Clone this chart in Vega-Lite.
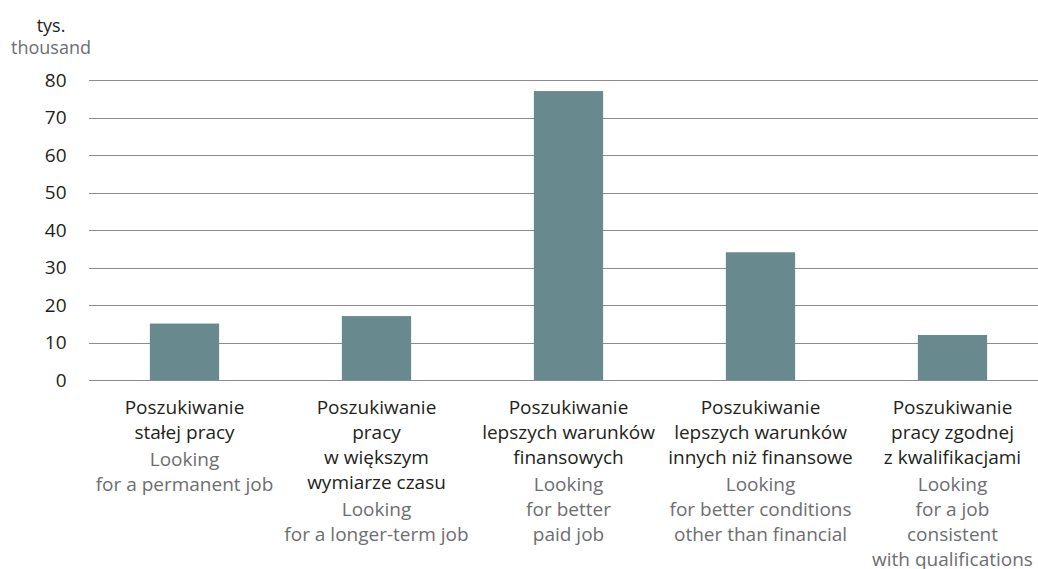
{
  "$schema": "https://vega.github.io/schema/vega-lite/v6.json",
  "width": 950,
  "height": 300,
  "autosize": {"type": "none"},
  "padding": {"left": 88, "top": 80, "right": 0, "bottom": 189},
  "background": "white",
  "view": {"stroke": null},
  "title": {
    "text": "tys.",
    "subtitle": "thousand",
    "anchor": "start",
    "frame": "group",
    "align": "center",
    "dx": -37,
    "offset": 13,
    "font": "Open Sans",
    "fontSize": 18,
    "fontWeight": "normal",
    "color": "#231f20",
    "subtitleFont": "Open Sans",
    "subtitleFontSize": 18,
    "subtitleColor": "#6d6e71",
    "subtitlePadding": 4
  },
  "data": {
    "values": [
      {"cat": "Poszukiwanie|stałej pracy#Looking|for a permanent job", "value": 15},
      {"cat": "Poszukiwanie|pracy|w większym|wymiarze czasu#Looking|for a longer-term job", "value": 17},
      {"cat": "Poszukiwanie|lepszych warunków|finansowych#Looking|for better|paid job", "value": 77},
      {"cat": "Poszukiwanie|lepszych warunków|innych niż finansowe#Looking|for better conditions|other than financial", "value": 34},
      {"cat": "Poszukiwanie|pracy zgodnej|z kwalifikacjami#Looking|for a job|consistent|with qualifications", "value": 12}
    ]
  },
  "encoding": {
    "y": {
      "field": "value",
      "type": "quantitative",
      "scale": {"domain": [0, 80], "nice": false},
      "axis": {
        "title": null,
        "domain": false,
        "ticks": false,
        "grid": true,
        "gridColor": "#8c8c8c",
        "gridWidth": 1,
        "values": [0, 10, 20, 30, 40, 50, 60, 70, 80],
        "labelOverlap": false,
        "labelFont": "Open Sans",
        "labelFontSize": 19,
        "labelColor": "#231f20",
        "labelPadding": 22
      }
    }
  },
  "layer": [
    {
      "mark": {"type": "bar", "color": "#688a8f"},
      "encoding": {
        "x": {
          "field": "cat",
          "type": "nominal",
          "sort": null,
          "scale": {"range": [0.5, 960.5], "paddingInner": 0.64, "paddingOuter": 0.32},
          "axis": {
            "orient": "bottom",
            "title": null,
            "domain": false,
            "ticks": false,
            "grid": false,
            "labelAngle": 0,
            "labelExpr": "split(split(datum.value, '#')[0], '|')",
            "labelFont": "Open Sans",
            "labelFontSize": 19,
            "labelColor": "#231f20",
            "labelLineHeight": 25,
            "labelBaseline": "top",
            "labelPadding": 18,
            "labelOverlap": false,
            "labelLimit": 0,
            "labelBound": false,
            "labelFlush": false
          }
        }
      }
    },
    {
      "mark": {"type": "bar", "color": "#688a8f"},
      "encoding": {
        "x": {
          "field": "cat",
          "type": "nominal",
          "sort": null,
          "axis": {
            "orient": "bottom",
            "title": null,
            "domain": false,
            "ticks": false,
            "grid": false,
            "labelAngle": 0,
            "labelExpr": "split(split(datum.value, '#')[1], '|')",
            "labelFont": "Open Sans",
            "labelFontSize": 19,
            "labelColor": "#6d6e71",
            "labelLineHeight": 25.3,
            "labelBaseline": "top",
            "labelPadding": {
              "condition": [
                {"test": "length(split(split(datum.value, '#')[0], '|')) == 4", "value": 120},
                {"test": "length(split(split(datum.value, '#')[0], '|')) == 3", "value": 95}
              ],
              "value": 70
            },
            "labelOverlap": false,
            "labelLimit": 0,
            "labelBound": false,
            "labelFlush": false
          }
        }
      }
    }
  ],
  "resolve": {"axis": {"x": "independent"}}
}
